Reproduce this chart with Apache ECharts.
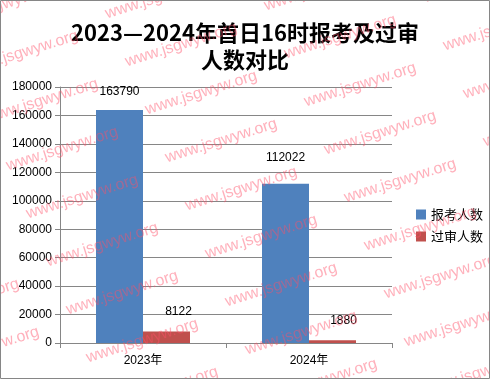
<!DOCTYPE html>
<html>
<head>
<meta charset="utf-8">
<script src="https://cdn.jsdelivr.net/npm/echarts@6/dist/echarts.min.js"></script>
<style>html,body{margin:0;padding:0;background:#fff;}#c{width:490px;height:379px;}</style>
</head>
<body>
<div id="c"></div>
<script>
var categories = ['2023年', '2024年'];
var seriesNames = ['报考人数', '过审人数'];
var applicants = [163790, 112022];
var approved = [8122, 1880];
var yTicks = [0, 20000, 40000, 60000, 80000, 100000, 120000, 140000, 160000, 180000];

var chart = echarts.init(document.getElementById('c'), null, {renderer: 'canvas'});

var wm = [];
for (var i = -3; i <= 8; i++) {
  for (var j = -2; j <= 4; j++) {
    var x = 148 + 20 * i + 159 * j;
    var y = 118 + 48 * i - 8 * j;
    if (x < -140 || x > 500 || y < -20 || y > 420) continue;
    wm.push({
      type: 'text', x: x, y: y, rotation: 17.5 * Math.PI / 180, z: 100, silent: true,
      style: {text: 'www.jsgwyw.org', font: '16px "Liberation Sans", Arial', fill: 'rgba(255,80,105,0.45)', textVerticalAlign: 'bottom'}
    });
  }
}
wm.push({type: 'rect', shape: {x: 0.5, y: 0.5, width: 489, height: 378}, style: {fill: 'none', stroke: '#868686', lineWidth: 1}, z: 101, silent: true});

var font = '"Liberation Sans", "Noto Sans CJK SC", sans-serif';
var labelOffsetsA = [[0, 0], [0, -8]];
var labelOffsetsB = [[12, 0], [11, 0]];

chart.setOption({
  animation: false,
  backgroundColor: '#fff',
  title: {
    text: '2023—2024年首日16时报考及过审\n人数对比',
    left: 'center', top: 14,
    textStyle: {fontFamily: '"Noto Sans CJK SC", sans-serif', fontWeight: 'bold', fontSize: 22, lineHeight: 27, color: '#000'}
  },
  legend: {
    orient: 'vertical', left: 411, top: 203, itemWidth: 10, itemHeight: 10, itemGap: 9, icon: 'rect',
    data: seriesNames,
    textStyle: {fontFamily: '"Noto Sans CJK SC", sans-serif', fontSize: 13, color: '#000'}
  },
  grid: {left: 60, right: 98, top: 87, bottom: 36},
  xAxis: {
    type: 'category', data: categories,
    axisLine: {lineStyle: {color: '#868686'}},
    axisTick: {show: true, length: 5, lineStyle: {color: '#868686'}},
    axisLabel: {color: '#000', fontSize: 12, margin: 12, fontFamily: font}
  },
  yAxis: {
    type: 'value', min: yTicks[0], max: yTicks[yTicks.length - 1], interval: yTicks[1] - yTicks[0],
    axisLine: {show: true, lineStyle: {color: '#868686'}},
    axisTick: {show: true, length: 5, lineStyle: {color: '#868686'}},
    axisLabel: {color: '#000', fontSize: 12, margin: 8, fontFamily: font, formatter: function (v) { return String(v); }},
    splitLine: {lineStyle: {color: '#868686'}}
  },
  series: [
    {
      name: seriesNames[0], type: 'bar', barWidth: 47, barGap: '0%', itemStyle: {color: '#4f81bd'},
      data: applicants.map(function (v, k) { return {value: v, label: {offset: labelOffsetsA[k]}}; }),
      label: {show: true, position: 'top', distance: 12, color: '#000', fontSize: 12, fontFamily: font}
    },
    {
      name: seriesNames[1], type: 'bar', barWidth: 47, itemStyle: {color: '#c0504d'},
      data: approved.map(function (v, k) { return {value: v, label: {offset: labelOffsetsB[k]}}; }),
      label: {show: true, position: 'top', distance: 14, color: '#000', fontSize: 12, fontFamily: font}
    }
  ],
  graphic: wm
});
</script>
</body>
</html>
